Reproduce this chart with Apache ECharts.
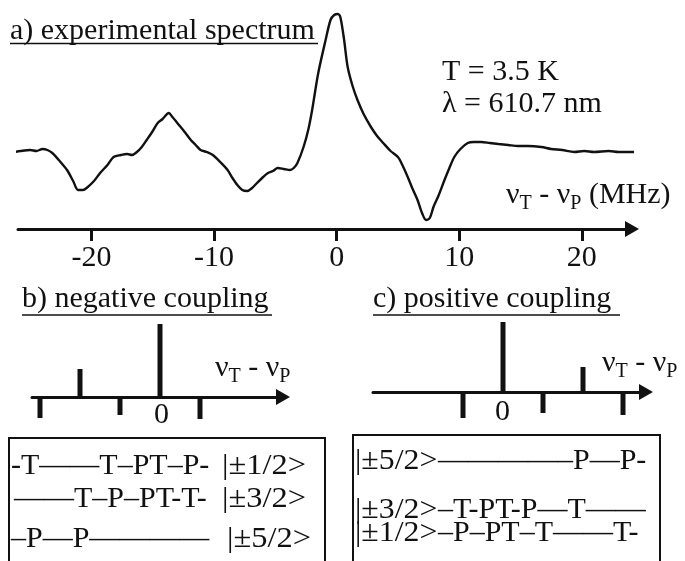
<!DOCTYPE html>
<html><head><meta charset="utf-8">
<script src="https://cdn.jsdelivr.net/npm/echarts@6/dist/echarts.min.js"></script>
<style>html,body{margin:0;padding:0;background:#fff}#c{width:685px;height:561px}</style>
</head><body><div id="c"></div>
<script>
// a) experimental spectrum: detuning (MHz) and signal (arb. units)
const spectrumMHz = [-26.3,-25.8,-25.0,-24.5,-24.0,-23.6,-23.2,-22.6,-22.0,-21.5,-21.1,-20.7,-20.4,-19.8,-19.3,-18.7,-18.2,-17.6,-17.1,-16.7,-16.3,-15.9,-15.5,-15.0,-14.6,-14.2,-13.7,-13.4,-13.0,-12.4,-11.9,-11.5,-11.1,-10.6,-10.1,-9.5,-8.9,-8.5,-8.1,-7.7,-7.3,-6.9,-6.5,-6.0,-5.6,-5.2,-4.8,-4.3,-3.8,-3.5,-3.2,-2.7,-2.3,-2.0,-1.5,-0.9,-0.5,-0.2,0.1,0.3,0.6,0.9,1.3,1.7,2.2,2.8,3.3,3.8,4.4,5.0,5.4,5.8,6.2,6.6,7.0,7.3,7.6,7.9,8.3,8.8,9.2,9.6,10.1,10.7,11.2,11.8,12.5,13.2,14.0,14.8,15.6,16.7,17.5,18.4,19.4,20.2,21.0,22.2,23.0,23.8,24.5];
const spectrumSignal = [77,78,79,78,80,79,76,68,59,48,39,39,41,48,56,64,72,74,75,74,77,82,89,98,106,110,116,112,106,97,89,84,79,77,74,67,59,51,44,39,38,41,46,52,56,58,61,60,59,61,66,82,100,119,156,189,209,214,215,212,190,162,143,129,115,102,93,86,78,72,63,52,40,29,15,9,11,22,33,49,61,72,80,86,87,87,86,85,84,83,83,82,80,79,77,78,77,78,77,77,77];
const freqTicks = [-20,-10,0,10,20];
// b) negative coupling sticks
const negPos = [-3,-2,-1,0,1];
const negAmp = [-21,28,-18,73,-22];
// c) positive coupling sticks
const posPos = [-1,0,1,2,3];
const posAmp = [-26,70,-21,25,-23];
// level labels
const negRows = ['-T\u2014\u2014T\u2013PT\u2013P-', '\u2014\u2014T\u2013P\u2013PT-T-', '\u2013P\u2014P\u2014\u2014\u2014\u2014'];
const negKets = ['|\u00b11/2>', '|\u00b13/2>', '|\u00b15/2>'];
const posKets = ['|\u00b15/2>', '|\u00b13/2>', '|\u00b11/2>'];
const posRows = ['\u2014\u2014\u2014\u2014\u2013P\u2014P-', '\u2013T-PT-P\u2014T\u2014\u2014', '\u2013P\u2013PT\u2013T\u2014\u2014T-'];

const FONT = 'Liberation Serif';
const INK = '#111';
const FS = 30;
const chart = echarts.init(document.getElementById('c'));

function txt(x, y, text, size, extra) {
  return Object.assign({type:'text', x:x, y:y, style:{text:text, fill:INK, fontFamily:FONT, fontSize:size||FS, verticalAlign:'middle', align:'left'}}, extra||{});
}
function nuLabel(x, y, withUnit, size) {
  size = size || FS;
  const sub = Math.round(size*0.68);
  return {type:'text', x:x, y:y, style:{
    text:'{n|\u03bd}{s|T}{n| - \u03bd}{s|P}' + (withUnit ? '{n| (MHz)}' : ''),
    fill:INK, fontFamily:FONT, fontSize:size, verticalAlign:'middle', align:'left',
    rich:{ n:{fontFamily:FONT, fontSize:size, lineHeight:38, verticalAlign:'middle', fill:INK},
           s:{fontFamily:FONT, fontSize:sub, lineHeight:sub, verticalAlign:'bottom', fill:INK} }
  }};
}
function uline(x1, x2, y) {
  return {type:'line', shape:{x1:x1, y1:y, x2:x2, y2:y}, style:{stroke:INK, lineWidth:1.6}};
}

const stickAxis = (min, max) => ({
  type:'value', min:min, max:max,
  axisLine:{show:true, onZero:true, symbol:['none','triangle'], symbolSize:[16,14], lineStyle:{color:INK, width:3}},
  axisTick:{show:false}, splitLine:{show:false}, axisLabel:{show:false}
});

const graphics = [
  txt(10, 31, 'a) experimental spectrum'), uline(10, 318, 43.5),
  txt(442, 72, 'T = 3.5 K'),
  txt(442, 104, '\u03bb = 610.7 nm'),
  nuLabel(506, 195, true),
  txt(22, 299, 'b) negative coupling'), uline(22, 272, 315),
  txt(373, 299, 'c) positive coupling'), uline(373, 620, 315),
  txt(154, 415, '0'), txt(495, 412, '0'),
  nuLabel(215, 368, false),
  nuLabel(602, 363, false),
  {type:'rect', shape:{x:9, y:438, width:316, height:140}, style:{fill:'none', stroke:INK, lineWidth:2}},
  {type:'rect', shape:{x:353, y:435, width:307, height:140}, style:{fill:'none', stroke:INK, lineWidth:2}}
];
const negY = [466, 499, 539], posY = [461, 510, 533];
const negRowX = [11, 14, 11], negKetX = [222, 222, 227];
negRows.forEach((r,i)=>{ graphics.push(txt(negRowX[i], negY[i], r)); graphics.push(txt(negKetX[i], negY[i], negKets[i], FS, {scaleX:1.08})); });
posRows.forEach((r,i)=>{ graphics.push(txt(355, posY[i], posKets[i], FS, {scaleX:1.06})); graphics.push(txt(438, posY[i], r)); });

chart.setOption({
  animation:false,
  backgroundColor:'#fff',
  grid:[
    {left:18, right:53, top:9, bottom:332},
    {left:32, right:402, top:317, bottom:134},
    {left:373, right:39, top:312, bottom:139}
  ],
  xAxis:[
    {type:'value', gridIndex:0, min:-26, max:24.1,
     axisLine:{show:true, onZero:false, symbol:['none','triangle'], symbolSize:[16,14], lineStyle:{color:INK, width:3}},
     axisTick:{show:true, customValues:freqTicks, length:12, lineStyle:{color:INK, width:3}},
     axisLabel:{customValues:freqTicks, color:INK, fontFamily:FONT, fontSize:FS, margin:14},
     splitLine:{show:false}},
    Object.assign(stickAxis(-3.2, 3.075), {gridIndex:1}),
    Object.assign(stickAxis(-3.25, 3.575), {gridIndex:2})
  ],
  yAxis:[
    {type:'value', gridIndex:0, min:0, max:220, show:false},
    {type:'value', gridIndex:1, min:-30, max:80, show:false},
    {type:'value', gridIndex:2, min:-30, max:80, show:false}
  ],
  series:[
    {type:'line', xAxisIndex:0, yAxisIndex:0, showSymbol:false, smooth:0.3,
     lineStyle:{color:INK, width:2.4}, data:spectrumMHz.map((x,i)=>[x, spectrumSignal[i]])},
    {type:'bar', xAxisIndex:1, yAxisIndex:1, barWidth:5, itemStyle:{color:INK},
     data:negPos.map((x,i)=>[x, negAmp[i]])},
    {type:'bar', xAxisIndex:2, yAxisIndex:2, barWidth:5, itemStyle:{color:INK},
     data:posPos.map((x,i)=>[x, posAmp[i]])}
  ],
  graphic:graphics
});
</script></body></html>
